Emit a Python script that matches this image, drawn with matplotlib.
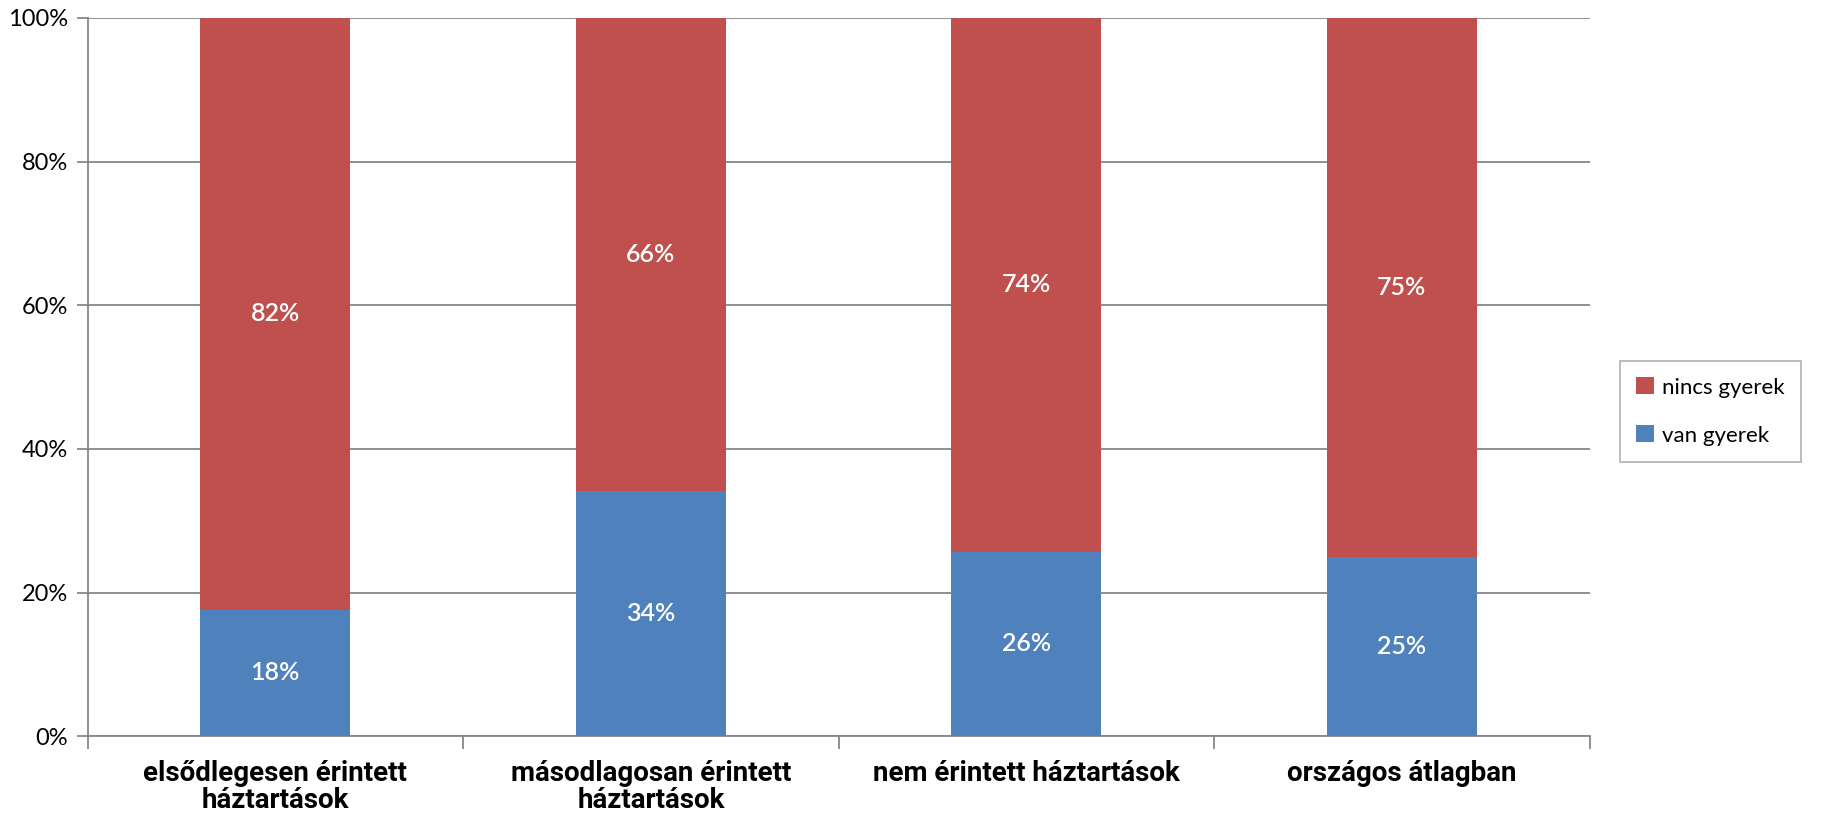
import numpy as np
import matplotlib.pyplot as plt
from matplotlib.ticker import PercentFormatter

# Share of households with / without children
categories = ['elsődlegesen érintett\nháztartások', 'másodlagosan érintett\nháztartások',
              'nem érintett háztartások', 'országos átlagban']
van_gyerek = [17.6, 34.2, 25.7, 24.9]
nincs_gyerek = [100 - v for v in van_gyerek]

blue = '#4F81BD'
red = '#C0504D'
grid_gray = '#878787'

plt.rcParams['font.family'] = ['Lato', 'DejaVu Sans']

fig = plt.figure(figsize=(18.25, 8.18), dpi=100)
ax = fig.add_axes([0.048, 0.100, 0.823, 0.878])

x = np.arange(len(categories))
b1 = ax.bar(x, van_gyerek, width=0.4, color=blue, label='van gyerek', zorder=3)
b2 = ax.bar(x, nincs_gyerek, width=0.4, bottom=van_gyerek, color=red, label='nincs gyerek', zorder=3)

# value labels in the middle of each segment
for xi, v, n in zip(x, van_gyerek, nincs_gyerek):
    ax.text(xi, v / 2, '{:.0f}%'.format(v), ha='center', va='center',
            color='white', fontsize=18, fontweight='semibold', zorder=4)
    ax.text(xi, v + n / 2, '{:.0f}%'.format(n), ha='center', va='center',
            color='white', fontsize=18, fontweight='semibold', zorder=4)

ax.set_xlim(-0.5, len(categories) - 0.5)
ax.set_ylim(0, 100)
ax.set_yticks(np.arange(0, 101, 20))
ax.yaxis.set_major_formatter(PercentFormatter(decimals=0))
ax.yaxis.grid(True, color=grid_gray, linewidth=1.3, zorder=0)

ax.set_xticks(x)
ax.set_xticklabels(categories, fontsize=20, fontweight='bold',
                   family=['Roboto', 'DejaVu Sans'], linespacing=1.0)
ax.set_xticks(np.arange(-0.5, len(categories)), minor=True)
ax.tick_params(axis='x', which='major', length=0, pad=17)
ax.tick_params(axis='x', which='minor', length=9, width=1.3, color=grid_gray)
ax.tick_params(axis='y', length=8, width=1.3, color=grid_gray, labelsize=17, pad=6)

for side in ['top', 'right']:
    ax.spines[side].set_visible(False)
for side in ['left', 'bottom']:
    ax.spines[side].set_color(grid_gray)
    ax.spines[side].set_linewidth(1.3)

handles = [b2, b1]
leg = fig.legend(handles, [h.get_label() for h in handles], loc='center left',
                 bbox_to_anchor=(0.885, 0.497), fontsize=16, frameon=True, fancybox=False,
                 handlelength=0.8, handleheight=0.8, handletextpad=0.35, labelspacing=1.25,
                 borderpad=0.75, borderaxespad=0.2)
leg.get_frame().set_edgecolor('#A6A6A6')
leg.get_frame().set_linewidth(1.3)

plt.savefig('out.png', dpi=100)
